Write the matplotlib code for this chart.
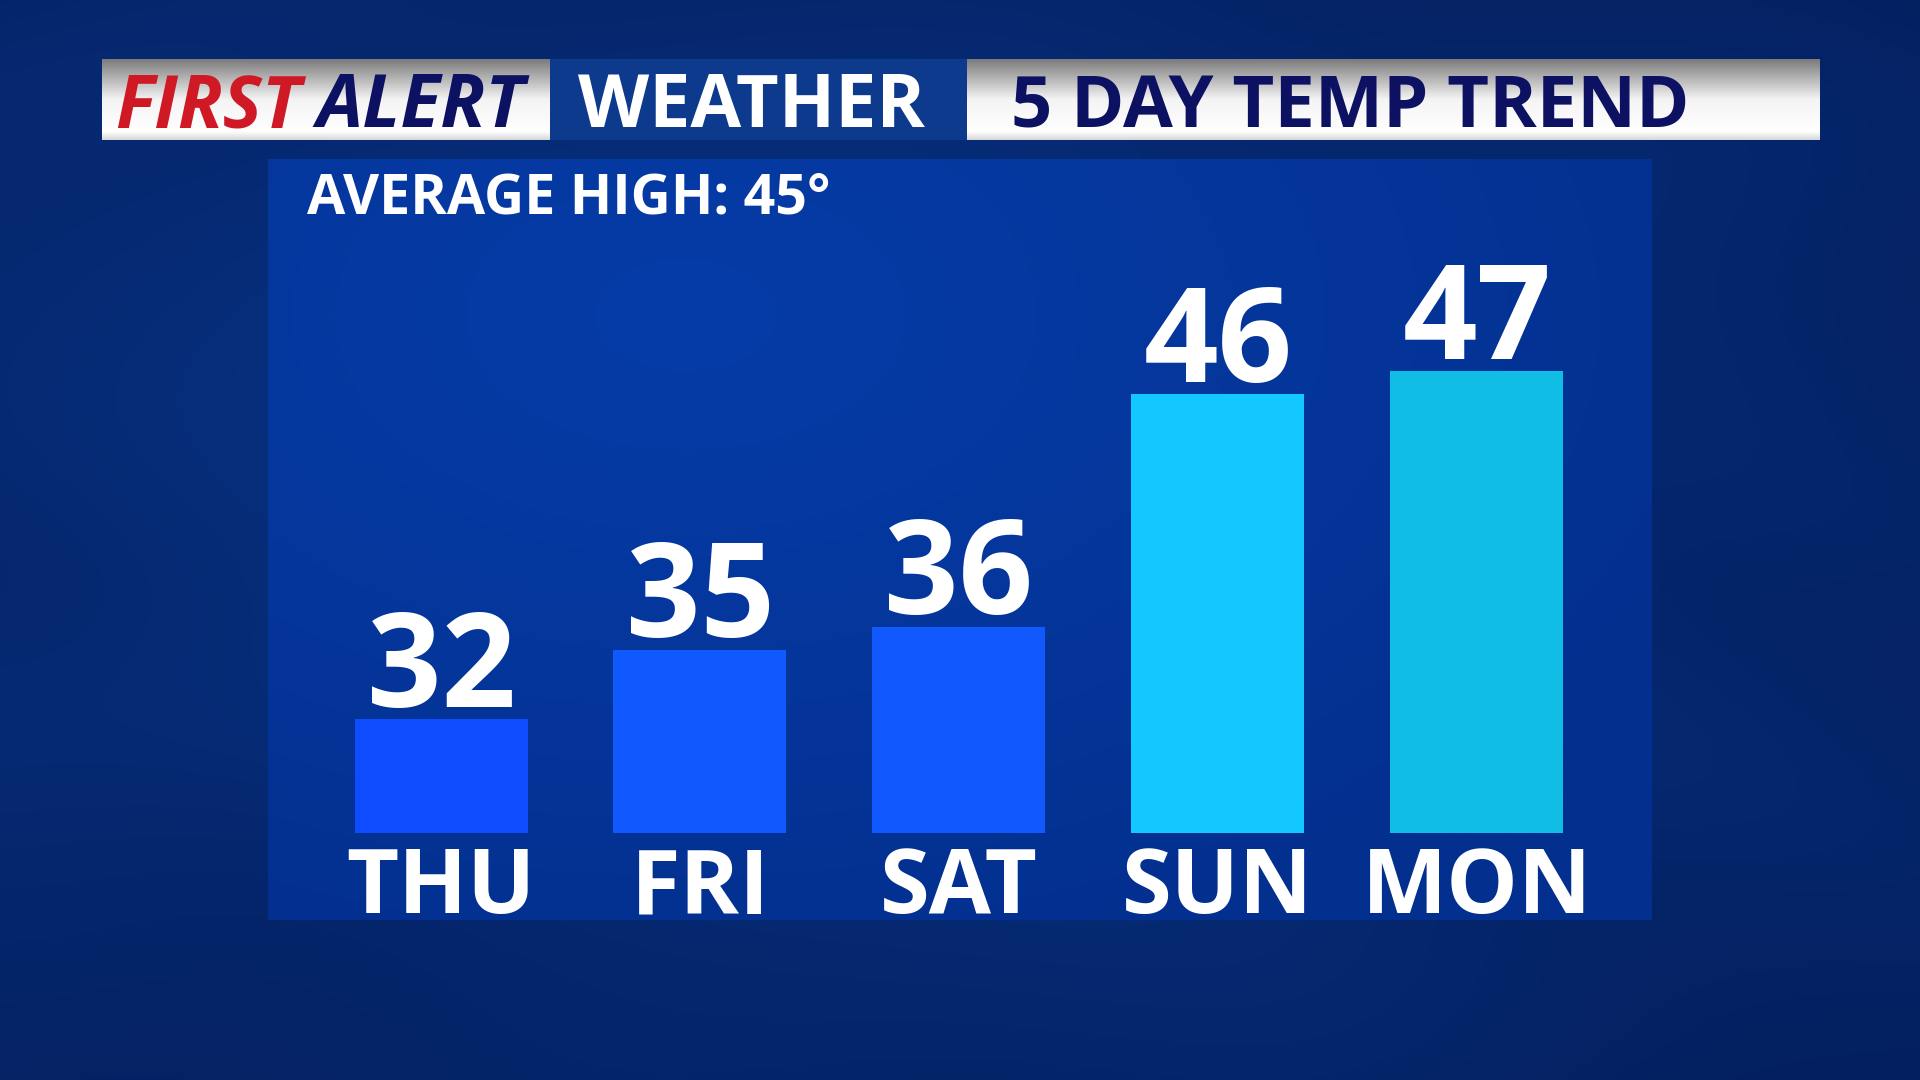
import numpy as np
import matplotlib
matplotlib.use("Agg")
import matplotlib.pyplot as plt
from matplotlib.colors import to_rgb, LinearSegmentedColormap

# ---- data ----
days = ["THU", "FRI", "SAT", "SUN", "MON"]
highs = [32, 35, 36, 46, 47]
bar_colors = ["#0f4cff", "#1059ff", "#1158ff", "#12c8ff", "#10bde4"]
average_high = 45

# ---- style ----
font = "Open Sans"
navy = "#0c1162"
red = "#cf1a26"
base_temp = 27.1  # where the bars start on the temperature scale

fig = plt.figure(figsize=(19.2, 10.8), dpi=100)

# ========== background (pixel coords, y down) ==========
bg = fig.add_axes([0, 0, 1, 1])
bg.set_xlim(0, 1920)
bg.set_ylim(1080, 0)
bg.axis("off")

yy, xx = np.mgrid[0:1:216j, 0:1:384j]
r = np.sqrt(((xx - 0.35) / 0.9) ** 2 + ((yy - 0.45) / 0.8) ** 2)
cloud = 0.5 + 0.25 * np.sin(7 * xx + 3 * np.sin(5 * yy)) * np.cos(6 * yy + 2 * np.sin(4 * xx))
t = np.clip(1 - r, 0, 1) * 0.6 + cloud * 0.3
dark = np.array(to_rgb("#021a55"))
light = np.array(to_rgb("#0a3a92"))
img = dark + (light - dark) * t[..., None]
bg.imshow(img, extent=[0, 1920, 1080, 0], aspect="auto", interpolation="bicubic", zorder=0)

# chart panel
py, px = np.mgrid[0:1:60j, 0:1:100j]
pr = np.sqrt(((px - 0.3) / 0.8) ** 2 + ((py - 0.2) / 0.9) ** 2)
pt = np.clip(1 - pr, 0, 1)
p_dark = np.array(to_rgb("#03308f"))
p_light = np.array(to_rgb("#063ca8"))
pimg = p_dark + (p_light - p_dark) * pt[..., None]
bg.imshow(pimg, extent=[268, 1652, 920, 159], aspect="auto", interpolation="bicubic", zorder=1)

# ========== header ==========
grad = LinearSegmentedColormap.from_list("hdr", [(0, "#7c7c7c"), (0.5, "#f4f4f4"), (0.9, "#ffffff"), (1, "#d8d8d8")])
vgrad = np.linspace(0, 1, 100)[:, None]
bg.imshow(vgrad, cmap=grad, extent=[102, 550, 140, 59], aspect="auto", zorder=2)
bg.imshow(vgrad, cmap=grad, extent=[967, 1820, 140, 59], aspect="auto", zorder=2)
bg.add_patch(plt.Rectangle((550, 59), 417, 81, facecolor="#0e3a8e", edgecolor="none", zorder=2))
bg.set_xlim(0, 1920)
bg.set_ylim(1080, 0)

bg.text(115, 127, "FIRST", fontsize=53, fontweight="bold", style="italic",
        color=red, family=font, va="baseline", ha="left", zorder=3)
bg.text(316, 127, "ALERT", fontsize=53, fontweight="bold", style="italic",
        color=navy, family=font, va="baseline", ha="left", zorder=3)
bg.text(578, 127, "WEATHER", fontsize=53, fontweight="bold",
        color="white", family=font, va="baseline", ha="left", zorder=3)
bg.text(1011, 127, "5 DAY TEMP TREND", fontsize=52, fontweight="bold",
        color=navy, family=font, va="baseline", ha="left", zorder=3)

bg.text(307, 214, f"AVERAGE HIGH: {average_high}°", fontsize=40, fontweight="bold",
        color="white", family=font, va="baseline", ha="left", zorder=3)

# ========== bars ==========
ax = fig.add_axes([268 / 1920, 160 / 1080, 1384 / 1920, 761 / 1080])
ax.patch.set_alpha(0)
ax.axis("off")
x = np.arange(len(days))
heights = [h - base_temp for h in highs]
bars = ax.bar(x, heights, bottom=base_temp, width=0.668, color=bar_colors, zorder=3)
ax.set_xlim(-0.668, 4.676)
ax.set_ylim(23.35, 56.15)

for rect, val in zip(bars, highs):
    ax.annotate(str(val), (rect.get_x() + rect.get_width() / 2, val),
                xytext=(0, 9), textcoords="offset points",
                ha="center", va="baseline", fontsize=94, fontweight="bold",
                color="white", family=font)

for xi, day in zip(x, days):
    ax.text(xi, 0.009, day, transform=ax.get_xaxis_transform(), ha="center",
            va="baseline", fontsize=65, fontweight="bold", color="white", family=font)

fig.savefig("out.png", dpi=100, facecolor="#021a55")
